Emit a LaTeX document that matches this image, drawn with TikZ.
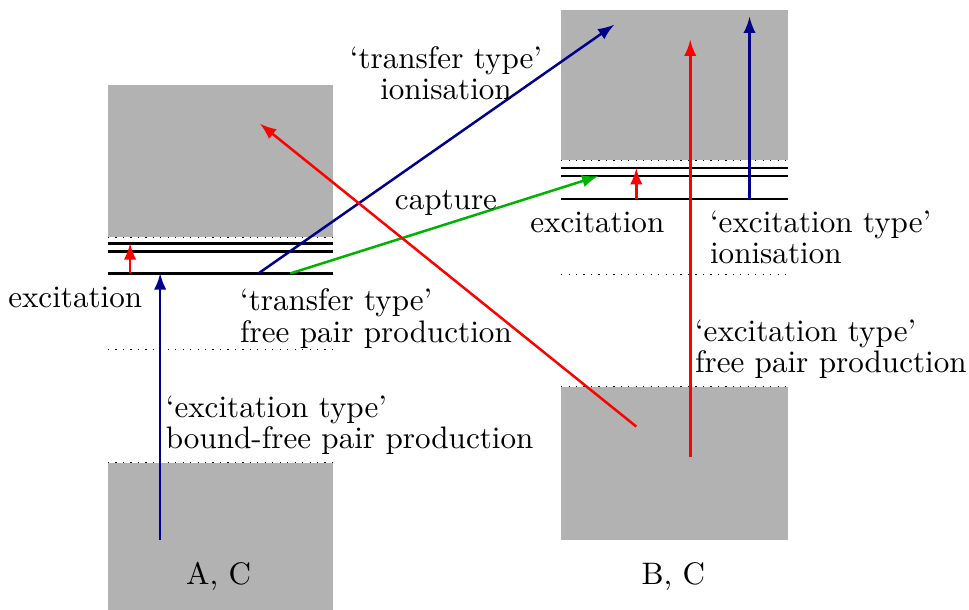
\documentclass[tikz,border=0pt]{standalone}
\definecolor{navy}{rgb}{0,0,0.55}
\definecolor{capgreen}{rgb}{0,0.7,0}
\begin{document}
\begin{tikzpicture}[>=latex]
	\useasboundingbox (0,0) rectangle (10.95,6.89);
	% left atom
	\fill[black!30] (1.22,4.21) rectangle (3.76,5.93);
	\fill[black!30] (1.22,0) rectangle (3.76,1.66);
	\draw[dotted] (1.22,4.21)--(3.76,4.21);
	\draw[dotted] (1.22,2.94)--(3.76,2.94);
	\draw[dotted] (1.22,1.66)--(3.76,1.66);
	\draw[thick] (1.22,4.14)--(3.76,4.14);
	\draw[thick] (1.22,4.05)--(3.76,4.05);
	\draw[thick] (1.22,3.80)--(3.76,3.80);
	% right atom
	\fill[black!30] (6.34,5.08) rectangle (8.90,6.78);
	\fill[black!30] (6.34,0.79) rectangle (8.90,2.52);
	\draw[dotted] (6.34,5.08)--(8.90,5.08);
	\draw[dotted] (6.34,3.79)--(8.90,3.79);
	\draw[dotted] (6.34,2.52)--(8.90,2.52);
	\draw[thick] (6.34,4.99)--(8.90,4.99);
	\draw[thick] (6.34,4.90)--(8.90,4.90);
	\draw[thick] (6.34,4.64)--(8.90,4.64);
	% end points
	\coordinate (exA0) at (1.47,3.80);
	\coordinate (exA1) at (1.47,4.14);
	\coordinate (bfp0) at (1.81,0.79);
	\coordinate (bfp1) at (1.81,3.80);
	\coordinate (tion0) at (2.92,3.80);
	\coordinate (tion1) at (6.94,6.61);
	\coordinate (cap0) at (3.28,3.80);
	\coordinate (cap1) at (6.76,4.90);
	\coordinate (tfp0) at (7.19,2.07);
	\coordinate (tfp1) at (2.94,5.49);
	\coordinate (exB0) at (7.19,4.64);
	\coordinate (exB1) at (7.19,4.99);
	\coordinate (efp0) at (7.80,1.73);
	\coordinate (efp1) at (7.80,6.44);
	\coordinate (eion0) at (8.47,4.64);
	\coordinate (eion1) at (8.47,6.70);
	% transitions
	\draw[->,thick,red] (exA0)--(exA1);
	\draw[->,thick,navy] (bfp0)--(bfp1);
	\draw[->,thick,navy] (tion0)--(tion1);
	\draw[->,thick,capgreen] (cap0)--(cap1);
	\draw[->,thick,red] (tfp0)--(tfp1);
	\draw[->,thick,red] (exB0)--(exB1);
	\draw[->,thick,red] (efp0)--(efp1);
	\draw[->,thick,navy] (eion0)--(eion1);
	% labels
	\node (labA) at (2.47,0.38) {A, C};
	\node (labB) at (7.61,0.38) {B, C};
	\node (exAlab) at (0.85,3.53) {excitation};
	\node (exBlab) at (6.75,4.38) {excitation};
	\node (caplab) at (5.04,4.60) {capture};
	\node[align=center] (tionlab) at (5.04,6.06) {`transfer type'\\[-2pt]ionisation};
	\node[align=left,anchor=west] (tfplab) at (2.59,3.29) {`transfer type'\\[-2pt]free pair production};
	\node[align=left,anchor=west] (bfplab) at (1.75,2.09) {`excitation type'\\[-2pt]bound-free pair production};
	\node[align=left,anchor=west] (eionlab) at (7.90,4.21) {`excitation type'\\[-2pt]ionisation};
	\node[align=left,anchor=west] (efplab) at (7.73,2.94) {`excitation type'\\[-2pt]free pair production};
\end{tikzpicture}
\end{document}
